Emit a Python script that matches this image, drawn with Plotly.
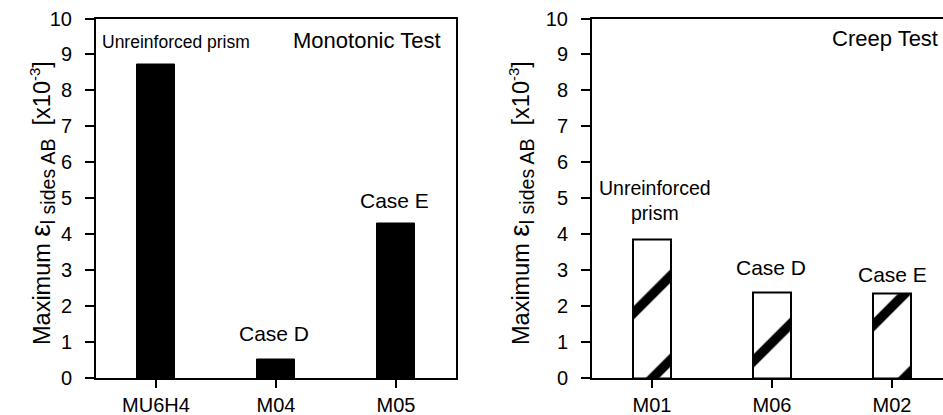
import plotly.graph_objects as go

# Data
mono_cats = ["MU6H4", "M04", "M05"]
mono_vals = [8.73, 0.52, 4.31]
creep_cats = ["M01", "M06", "M02"]
creep_vals = [3.84, 2.39, 2.34]
y_ticks = list(range(0, 11))

FONT = "Liberation Sans, Arial, sans-serif"
W, H = 943, 415

fig = go.Figure()
fig.add_trace(go.Bar(x=mono_cats, y=mono_vals, width=0.31,
                     marker=dict(color="black", line=dict(color="black", width=1)),
                     xaxis="x", yaxis="y", showlegend=False))
fig.add_trace(go.Bar(x=creep_cats, y=creep_vals, width=0.31,
                     marker=dict(color="white", line=dict(color="black", width=2),
                                 pattern=dict(shape="/", fgcolor="black", bgcolor="white",
                                              fgopacity=1, size=59.4, solidity=0.16)),
                     xaxis="x2", yaxis="y2", showlegend=False))

def px_x(p):
    return p / W

y_dom = [1 - 378 / H, 1 - 18.5 / H]
axis_common = dict(showline=True, linecolor="black", linewidth=2, mirror=True,
                   ticks="outside", tickcolor="black", tickwidth=2,
                   showgrid=False, zeroline=False, automargin=False,
                   tickfont=dict(family=FONT, size=20, color="black"))

fig.update_layout(
    width=W, height=H,
    margin=dict(l=0, r=0, t=0, b=0),
    paper_bgcolor="white", plot_bgcolor="white",
    bargap=0,
    xaxis=dict(domain=[px_x(96), px_x(456)], range=[-0.5, 2.5], ticklen=8,
               anchor="y", **axis_common),
    yaxis=dict(domain=y_dom, range=[0, 10], tickvals=y_ticks, ticklen=9,
               anchor="x", ticklabelstandoff=9, **axis_common),
    xaxis2=dict(domain=[px_x(592), 1.0], range=[-0.5, 2.425], ticklen=8,
                anchor="y2", **axis_common),
    yaxis2=dict(domain=y_dom, range=[0, 10], tickvals=y_ticks, ticklen=9,
                anchor="x2", ticklabelstandoff=9, **axis_common),
)

ytitle = ("Maximum <span style='font-size:28px'>ε</span>"
          "<sub><span style='font-size:19.5px'>l sides AB</span></sub>"
          "  [x10<sup><span style='font-size:15px'>-3</span></sup>]")

def ann(text, x, y, xref, yref, size=20, **kw):
    fig.add_annotation(text=text, x=x, y=y, xref=xref, yref=yref, showarrow=False,
                       font=dict(family=FONT, size=size, color="black"), **kw)

# Left panel annotations
ann("Unreinforced prism", 0.167, 9.35, "x", "y", size=17.5)
ann("Monotonic Test", 1.758, 9.4, "x", "y", size=22)
ann("Case D", 0.983, 1.25, "x", "y", size=21)
ann("Case E", 1.988, 4.95, "x", "y", size=21)
# Right panel annotations
ann("Creep Test", 2.4, 9.45, "x2", "y2", size=22, xanchor="right")
ann("Unreinforced<br>prism", 0.021, 4.94, "x2", "y2", size=19.5)
ann("Case D", 0.99, 3.07, "x2", "y2", size=21)
ann("Case E", 2.008, 2.89, "x2", "y2", size=21)

# Y axis titles
ann(ytitle, px_x(23), 1 - 203 / H, "paper", "paper", size=23.5, textangle=-90)
ann(ytitle, px_x(521), 1 - 203 / H, "paper", "paper", size=23.5, textangle=-90)

fig.write_html("out.html")
